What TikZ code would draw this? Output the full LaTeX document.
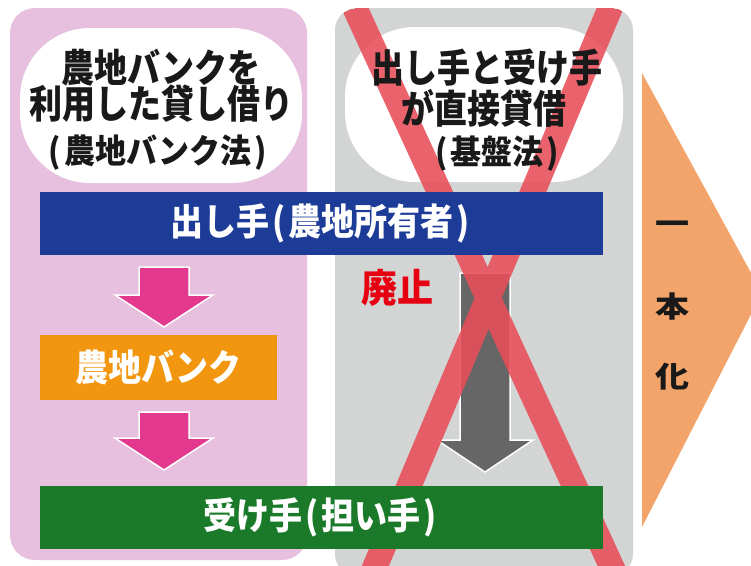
\documentclass[tikz,border=0pt]{standalone}
\usepackage{fontspec}
\usepackage{graphicx}
\setmainfont{Noto Sans CJK JP}
\newfontfamily\heavy{Noto Sans CJK JP Black}
\definecolor{pinkbg}{RGB}{230,192,222}
\definecolor{graybg}{RGB}{211,213,213}
\definecolor{barblue}{RGB}{29,60,152}
\definecolor{bargreen}{RGB}{26,122,42}
\definecolor{boxorange}{RGB}{242,150,15}
\definecolor{arrpink}{RGB}{226,57,142}
\definecolor{arrgray}{RGB}{102,102,102}
\definecolor{xred}{RGB}{232,78,88}
\definecolor{chevron}{RGB}{242,164,106}
\definecolor{stopred}{RGB}{230,0,18}
\definecolor{ink}{RGB}{25,25,25}
\newcommand\blockarr[7]{%
  \filldraw[fill=#7, draw=white, line width=1.5pt, line join=miter]
    ({#1-#5},{#2}) -- ({#1+#5},{#2}) -- ({#1+#5},{#3}) -- ({#1+#6},{#3})
    -- ({#1},{#4}) -- ({#1-#6},{#3}) -- ({#1-#5},{#3}) -- cycle;}
\newcommand\tall[2]{\scalebox{1}[#1]{#2}}
\newcommand\lp{\hspace{0.08em}(\hspace{0.1em}}
\newcommand\rp{\hspace{0.1em})\hspace{0.08em}}
\begin{document}
\begin{tikzpicture}[x=1pt,y=-1pt,
  every node/.style={inner sep=0pt},
  title/.style={text=ink, font=\heavy\fontsize{33}{36}\selectfont},
  sub/.style={text=ink, font=\heavy\fontsize{31}{34}\selectfont},
  bar/.style={minimum width=563pt, minimum height=63pt, text=white,
              font=\heavy\fontsize{33}{36}\selectfont},
  vert/.style={text=ink, font=\bfseries\fontsize{34}{36}\selectfont}]
\useasboundingbox (0,0) rectangle (751,565);
% panels
\fill[pinkbg, rounded corners=25pt] (10,8) rectangle (307,560);
\fill[graybg, rounded corners=22pt] (335,8) rectangle (633,576);
% white title shapes
\fill[white, rounded corners=70pt] (20,28) rectangle (302,183);
\fill[white, rounded corners=70pt] (345,27) rectangle (623,182);
% abolished direct arrow
\blockarr{485}{273}{440}{472}{25}{48}{arrgray}
% red cross
\begin{scope}
  \clip[rounded corners=22pt] (335,8) rectangle (633,576);
  \begin{scope}[transparency group, opacity=0.88]
    \draw[xred, line width=25pt] (342,-20) -- (627,600);
    \draw[xred, line width=25pt] (622,-20) -- (361,600);
  \end{scope}
\end{scope}
% titles
\node[title] (l1) at (161,68) {\tall{1.18}{農地バンクを}};
\node[title] (l2) at (161,104) {\tall{1.18}{利用した貸し借り}};
\node[sub]   (l3) at (158,153) {\tall{1.08}{\lp 農地バンク法\rp}};
\node[title] (r1) at (487,68) {\tall{1.18}{出し手と受け手}};
\node[title] (r2) at (484,108) {\tall{1.18}{が直接貸借}};
\node[sub]   (r3) at (497,154) {\tall{1.08}{\lp 基盤法\rp}};
% bars
\node[bar, fill=barblue] (giver) at (321.5,223.5) {\tall{1.12}{出し手\lp 農地所有者\rp}};
\node[bar, fill=bargreen] (taker) at (321.5,517) {\tall{1.12}{受け手\lp 担い手\rp}};
% bank
\node[fill=boxorange, minimum width=237pt, minimum height=65pt, text=white,
      font=\heavy\fontsize{33}{36}\selectfont] (bank) at (158.5,367.5) {\tall{1.12}{農地バンク}};
\blockarr{164}{267}{295}{327}{25}{49}{arrpink}
\blockarr{164}{412}{438}{470}{25}{49}{arrpink}
% abolished label
\node[text=stopred, font=\heavy\fontsize{36}{40}\selectfont] (stop) at (397,288) {\tall{1.08}{廃止}};
% unify chevron
\fill[chevron] (642,73) -- (762,293) -- (642,527) -- cycle;
\node[vert] (u1) at (672,228) {\tall{0.85}{一}};
\node[vert] (u2) at (672,307) {\tall{0.85}{本}};
\node[vert] (u3) at (672,377) {\tall{0.85}{化}};
\end{tikzpicture}
\end{document}
